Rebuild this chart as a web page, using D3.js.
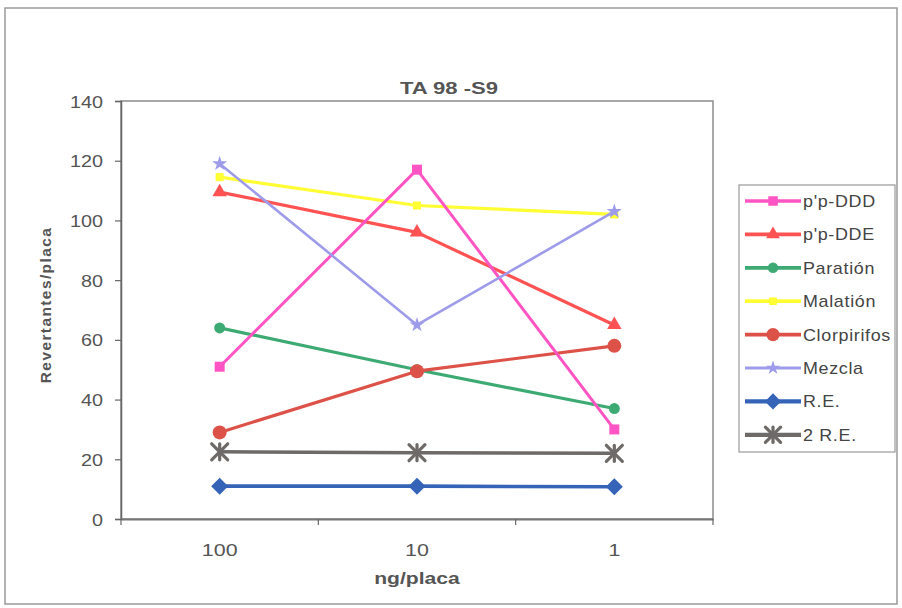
<!DOCTYPE html>
<html>
<head>
<meta charset="utf-8">
<script src="https://cdn.jsdelivr.net/npm/d3@7"></script>
<style>
  html, body { margin: 0; padding: 0; background: #fff; }
  svg { display: block; font-family: "Liberation Sans", Arial, sans-serif; }
</style>
</head>
<body>
<svg id="chart" width="902" height="608"></svg>
<script>
// Revertants per plate for strain TA 98 without S9 activation
const doses = ["100", "10", "1"];
const yTicks = [0, 20, 40, 60, 80, 100, 120, 140];

const ppDDD = [51, 117, 30];
const ppDDE = [109.5, 96, 65];
const paration = [64, 50, 37];
const malation = [114.5, 105, 102];
const clorpirifos = [29, 49.5, 58];
const mezcla = [119, 65, 103];
const re = [11, 11, 10.8];
const re2 = [22.5, 22.2, 22];

const seriesNames = ["p'p-DDD", "p'p-DDE", "Paratión", "Malatión", "Clorpirifos", "Mezcla", "R.E.", "2 R.E."];
const seriesValues = [ppDDD, ppDDE, paration, malation, clorpirifos, mezcla, re, re2];
const seriesColors = ["#FF55C4", "#FF5252", "#3DAA74", "#FFFF33", "#DD5248", "#9E9CEA", "#3563B8", "#6E6A68"];
const seriesMarkers = ["square", "triangle", "circleS", "squareS", "circleL", "star", "diamond", "asterisk"];
const seriesWidths = [3, 3.2, 3.2, 3.2, 3.2, 2.6, 3.6, 3.6];

const svg = d3.select("#chart");
const margin = { left: 121, right: 713, top: 101, bottom: 519 };

const x = d3.scaleBand().domain(doses).range([margin.left, margin.right]).padding(0);
const y = d3.scaleLinear().domain([0, 140]).range([margin.bottom, margin.top]);
const cx = d => x(d) + x.bandwidth() / 2;

// text is drawn slightly widened, as in the original export
const WIDEN = 1.2;
function label(parent, px, py, str, opts) {
  const o = Object.assign({ size: 16, weight: "normal", anchor: "start", fill: "#555", rotate: 0, widen: WIDEN, spacing: 0 }, opts);
  return parent.append("text")
    .attr("transform", `translate(${px},${py}) rotate(${o.rotate}) scale(${o.widen},1)`)
    .attr("text-anchor", o.anchor).attr("fill", o.fill)
    .style("font-size", o.size + "px").style("font-weight", o.weight)
    .style("letter-spacing", o.spacing + "px")
    .text(str);
}

// outer frame
svg.append("rect").attr("x", 5).attr("y", 8).attr("width", 892).attr("height", 596)
  .attr("fill", "#fff").attr("stroke", "#9a9a9a").attr("stroke-width", 1.5);

// plot area frame
svg.append("rect").attr("x", margin.left).attr("y", margin.top)
  .attr("width", margin.right - margin.left).attr("height", margin.bottom - margin.top)
  .attr("fill", "none").attr("stroke", "#8c8c8c").attr("stroke-width", 1.5);

// y axis
const yAxis = svg.append("g").attr("transform", `translate(${margin.left},0)`)
  .call(d3.axisLeft(y).tickValues(yTicks).tickSize(6).tickPadding(7));
yAxis.select(".domain").attr("stroke", "#666").attr("stroke-width", 1.5);
yAxis.selectAll(".tick line").attr("stroke", "#666").attr("stroke-width", 1.2);
yAxis.selectAll(".tick text").remove();
yAxis.selectAll(".tick").each(function (d) {
  label(d3.select(this), -18, 6, d, { anchor: "end", size: 16.5 });
});

// x axis
const xAxis = svg.append("g").attr("transform", `translate(0,${margin.bottom})`)
  .call(d3.axisBottom(x).tickSize(0));
xAxis.select(".domain").attr("stroke", "#777").attr("stroke-width", 2);
xAxis.selectAll(".tick text").remove();
xAxis.selectAll(".tick").each(function (d) {
  label(d3.select(this), 0, 37, d, { anchor: "middle", size: 16.5, widen: 1.3 });
});
// category boundary ticks
const edges = doses.map(d => x(d)).concat([margin.right]);
xAxis.selectAll(".edge").data(edges).join("line")
  .attr("x1", d => d).attr("x2", d => d).attr("y1", 0).attr("y2", 6)
  .attr("stroke", "#666").attr("stroke-width", 1.2);

// titles
label(svg, 449, 94, "TA 98 -S9", { anchor: "middle", size: 17, weight: "bold", widen: 1.3 });
label(svg, 51, 305, "Revertantes/placa", { anchor: "middle", size: 15.5, weight: "bold", rotate: -90, widen: 1, spacing: 1.4 });
label(svg, 417, 584, "ng/placa", { anchor: "middle", size: 16.5, weight: "bold", widen: 1.28 });

// marker drawing
function drawMarker(g, type, color, px, py, scale) {
  const s = scale || 1;
  if (type === "square") {
    g.append("rect").attr("x", px - 5 * s).attr("y", py - 5 * s).attr("width", 10 * s).attr("height", 10 * s).attr("fill", color);
  } else if (type === "squareS") {
    g.append("rect").attr("x", px - 4 * s).attr("y", py - 4 * s).attr("width", 8 * s).attr("height", 8 * s).attr("fill", color);
  } else if (type === "triangle") {
    g.append("path").attr("d", d3.symbol(d3.symbolTriangle, 90 * s * s)()).attr("transform", `translate(${px},${py})`).attr("fill", color);
  } else if (type === "circleS") {
    g.append("circle").attr("cx", px).attr("cy", py).attr("r", 5.5 * s).attr("fill", color);
  } else if (type === "circleL") {
    g.append("circle").attr("cx", px).attr("cy", py).attr("r", 7 * s).attr("fill", color);
  } else if (type === "diamond") {
    const r = 8.5 * s;
    g.append("path").attr("d", `M${px},${py - r}L${px + r},${py}L${px},${py + r}L${px - r},${py}Z`).attr("fill", color);
  } else if (type === "star") {
    g.append("path").attr("d", d3.symbol(d3.symbolStar, 70 * s * s)()).attr("transform", `translate(${px},${py})`).attr("fill", color);
  } else if (type === "asterisk") {
    const r = 8 * s;
    const a = g.append("g").attr("stroke", color).attr("stroke-width", 3.2).attr("stroke-linecap", "round");
    a.append("line").attr("x1", px - r).attr("y1", py - r).attr("x2", px + r).attr("y2", py + r);
    a.append("line").attr("x1", px - r).attr("y1", py + r).attr("x2", px + r).attr("y2", py - r);
    a.append("line").attr("x1", px).attr("y1", py - r).attr("x2", px).attr("y2", py + r);
  }
}

// series lines, drawn so later series sit on top
const plot = svg.append("g");
const line = d3.line().x((d, i) => cx(doses[i])).y(d => y(d));
const drawOrder = [3, 2, 4, 1, 0, 5, 7, 6];
drawOrder.forEach(k => {
  const g = plot.append("g");
  g.append("path").datum(seriesValues[k]).attr("d", line)
    .attr("fill", "none").attr("stroke", seriesColors[k])
    .attr("stroke-width", seriesWidths[k]).attr("stroke-linejoin", "round");
  seriesValues[k].forEach((v, i) => drawMarker(g, seriesMarkers[k], seriesColors[k], cx(doses[i]), y(v)));
});

// legend
const lg = svg.append("g");
lg.append("rect").attr("x", 739).attr("y", 185).attr("width", 156).attr("height", 267)
  .attr("fill", "#fff").attr("stroke", "#999").attr("stroke-width", 1.2);
seriesNames.forEach((name, k) => {
  const ly = 201 + k * 33.4;
  const g = lg.append("g");
  g.append("line").attr("x1", 745).attr("x2", 801).attr("y1", ly).attr("y2", ly)
    .attr("stroke", seriesColors[k]).attr("stroke-width", seriesWidths[k] + 0.6);
  drawMarker(g, seriesMarkers[k], seriesColors[k], 773, ly, 0.95);
  label(g, 803, ly + 6, name, { size: 16, fill: "#444", widen: 1.12, spacing: 0.6 });
});
</script>
</body>
</html>
